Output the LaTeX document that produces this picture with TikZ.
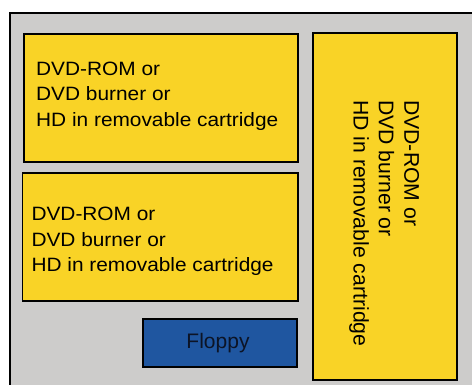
\documentclass[tikz,border=0pt]{standalone}
\usepackage{fontspec}
\newfontfamily\hfont[FakeStretch=1.08]{Liberation Sans}
\newfontfamily\vfont{Liberation Sans}
\definecolor{panelgray}{RGB}{205,204,203}
\definecolor{driveyellow}{RGB}{249,211,38}
\definecolor{floppyblue}{RGB}{31,86,160}
\definecolor{floppytext}{RGB}{12,20,38}
\tikzset{
  bay/.style={draw=black, line width=1.8pt, fill=driveyellow},
  flop/.style={draw=black, line width=1.8pt, fill=floppyblue},
  htext/.style={inner sep=0pt, anchor=north west, align=left,
    font=\hfont\fontsize{19.3}{25.6}\selectfont},
  vtext/.style={inner sep=0pt, anchor=north west, align=left, rotate=-90,
    font=\vfont\fontsize{21.2}{25.3}\selectfont},
}
\begin{document}
\begin{tikzpicture}[x=1pt,y=-1pt]
\clip (0,0) rectangle (472,385);
\fill[white] (0,0) rectangle (472,385);
\draw[fill=panelgray, line width=1.8pt] (10,13) rectangle (490,400);
\draw[bay] (24,34) rectangle (298,162);
\draw[bay] (22.5,173) rectangle (298,301);
\draw[bay] (313,33) rectangle (457,380);
\draw[flop] (143,319) rectangle (297,367);
\node[htext] (t1) at (36,61.6) {DVD-ROM or\\DVD burner or\\HD in removable cartridge};
\node[htext] (t2) at (31.3,207) {DVD-ROM or\\DVD burner or\\HD in removable cartridge};
\node[vtext] (t3) at (419.3,100) {DVD-ROM or\\DVD burner or\\HD in removable cartridge};
\node[inner sep=0pt, text=floppytext, font=\vfont\fontsize{21}{25}\selectfont] (fl) at (218,343) {Floppy};
\end{tikzpicture}
\end{document}
